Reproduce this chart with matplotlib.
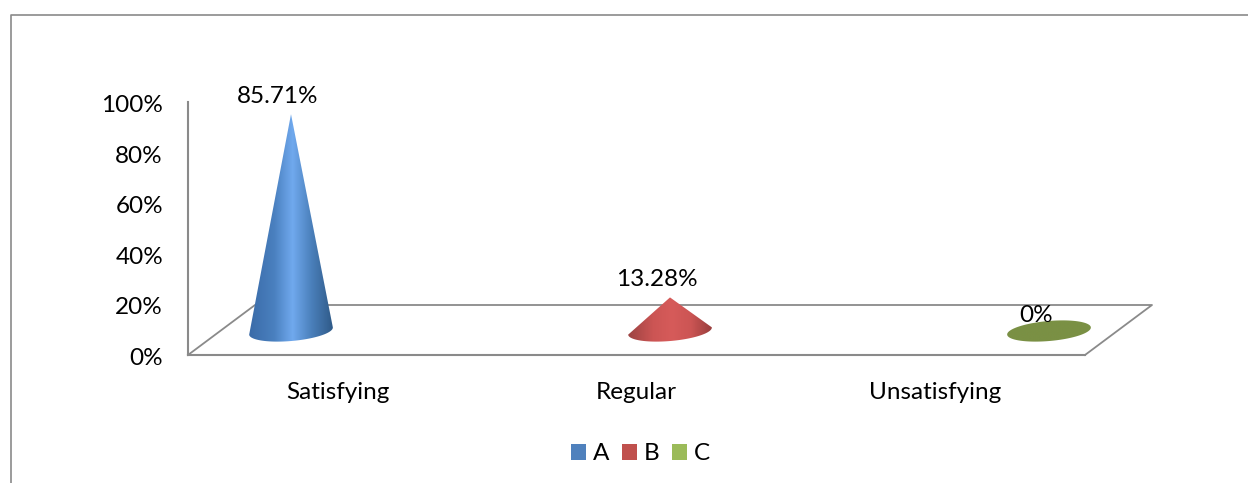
import matplotlib

matplotlib.use("Agg")
import matplotlib.pyplot as plt
import numpy as np
from matplotlib.colors import to_rgb
from matplotlib.lines import Line2D
from matplotlib.patches import Patch, Polygon
from matplotlib.transforms import ScaledTranslation

categories = ["Satisfying", "Regular", "Unsatisfying"]
series_names = ["A", "B", "C"]
values = [85.71, 13.28, 0]
value_labels = ["85.71%", "13.28%", "0%"]
y_ticks = [0, 20, 40, 60, 80, 100]
legend_colors = ["#4f81bd", "#c0504d", "#9bbb59"]

# cone colours across the width
grad_stops = [0, 0.3, 0.52, 0.75, 1]
cone_colors = [
    ("#3a6ba8", "#4a80bf", "#70a9ee", "#4a7fba", "#2f5a88"),
    ("#9c4342", "#cc5554", "#d65b5a", "#cc5554", "#993e3d"),
    ("#7a9044", "#7a9044", "#7a9044", "#7a9044", "#7a9044"),
]

W, H = 1248, 483
AXIS_LEFT, AXIS_RIGHT = 188, 1085
AXIS_TOP, AXIS_BOTTOM = 102, 355
CONE_PX = [291, 670, 1049]
DEPTH_PX = (67, 50)
BASE_PX_Y = 331
HALF_W_PX, HALF_H_PX = 42, 10
TILT = np.radians(5)
GRAY = "#8a8a8a"
FONT_SIZE = 17.5

plt.rcParams["font.family"] = ["Lato", "DejaVu Sans"]

fig = plt.figure(figsize=(W / 100, H / 100), dpi=100)
ax = fig.add_axes([
    AXIS_LEFT / W,
    1 - AXIS_BOTTOM / H,
    (AXIS_RIGHT - AXIS_LEFT) / W,
    (AXIS_BOTTOM - AXIS_TOP) / H,
])
x_per_px = 3 / (AXIS_RIGHT - AXIS_LEFT)
y_per_px = 100 / (AXIS_BOTTOM - AXIS_TOP)

ax.set_xlim(0, 3)
ax.set_ylim(0, 100)
ax.set_xticks([0.5, 1.5, 2.5], categories)
ax.set_yticks(y_ticks, [f"{t}%" for t in y_ticks])
ax.tick_params(axis="both", length=0, labelsize=FONT_SIZE, colors="black")
ax.tick_params(axis="x", pad=19.5)
ax.tick_params(axis="y", pad=18)
nudge = ScaledTranslation(0, -1.5 / 100, fig.dpi_scale_trans)
for lbl in ax.get_yticklabels():
    lbl.set_transform(lbl.get_transform() + nudge)
ax.patch.set_alpha(0)
for side in ["top", "right"]:
    ax.spines[side].set_visible(False)
for side in ["left", "bottom"]:
    ax.spines[side].set_color(GRAY)
    ax.spines[side].set_linewidth(1.5)

# floor of the 3d plot
dx = DEPTH_PX[0] * x_per_px
dy = DEPTH_PX[1] * y_per_px
ax.plot([0, dx, 3 + dx, 3], [0, dy, dy, 0], color=GRAY, lw=1.3, clip_on=False, zorder=1)

base_y = (AXIS_BOTTOM - BASE_PX_Y) * y_per_px
for i, value in enumerate(values):
    cx = (CONE_PX[i] - AXIS_LEFT) * x_per_px
    # tilted base ellipse: lower half for a cone, whole for a flat disc
    t = np.linspace(0, np.pi, 60) if value > 0 else np.linspace(0, 2 * np.pi, 120)
    ex = -HALF_W_PX * np.cos(t)
    ey = -HALF_H_PX * np.sin(t)
    px = ex * np.cos(TILT) - ey * np.sin(TILT)
    py = ex * np.sin(TILT) + ey * np.cos(TILT)
    xs = cx + px * x_per_px
    ys = base_y + py * y_per_px
    if value > 0:
        xs = np.append(xs, cx)
        ys = np.append(ys, base_y + value)
    shape = Polygon(np.column_stack([xs, ys]), closed=True, facecolor="none", edgecolor="none", clip_on=False)
    ax.add_patch(shape)
    u = np.linspace(0, 1, 200)
    rgb = np.array([to_rgb(c) for c in cone_colors[i]])
    grad = np.column_stack([np.interp(u, grad_stops, rgb[:, k]) for k in range(3)])
    im = ax.imshow(
        grad[None, :, :],
        extent=[xs.min(), xs.max(), ys.min(), ys.max()],
        aspect="auto",
        zorder=2,
        interpolation="bilinear",
    )
    # the last cone sticks out past the front of the floor
    im.set_clip_box(fig.bbox)
    im.set_clip_path(shape)
    ax.annotate(
        value_labels[i],
        (cx, base_y + value),
        xytext=(-9.4, 12.6 if value > 0 else 11.5),
        textcoords="offset points",
        ha="center",
        va="center",
        fontsize=FONT_SIZE,
        color="black",
        annotation_clip=False,
        zorder=3,
    )

ax.set_xlim(0, 3)
ax.set_ylim(0, 100)

handles = [Patch(facecolor=c, edgecolor="none") for c in legend_colors]
fig.legend(
    handles,
    series_names,
    loc="center",
    bbox_to_anchor=(640.5 / W, 1 - 454 / H),
    ncol=3,
    frameon=False,
    fontsize=FONT_SIZE,
    handlelength=0.62,
    handleheight=0.62,
    handletextpad=0.3,
    columnspacing=0.5,
)

# outer chart border, cut by the image on the right and bottom
fig.add_artist(Line2D([11 / W, 11 / W, 1], [0, 1 - 15 / H, 1 - 15 / H], color=GRAY, lw=1.2))

fig.savefig("out.png", dpi=100)
